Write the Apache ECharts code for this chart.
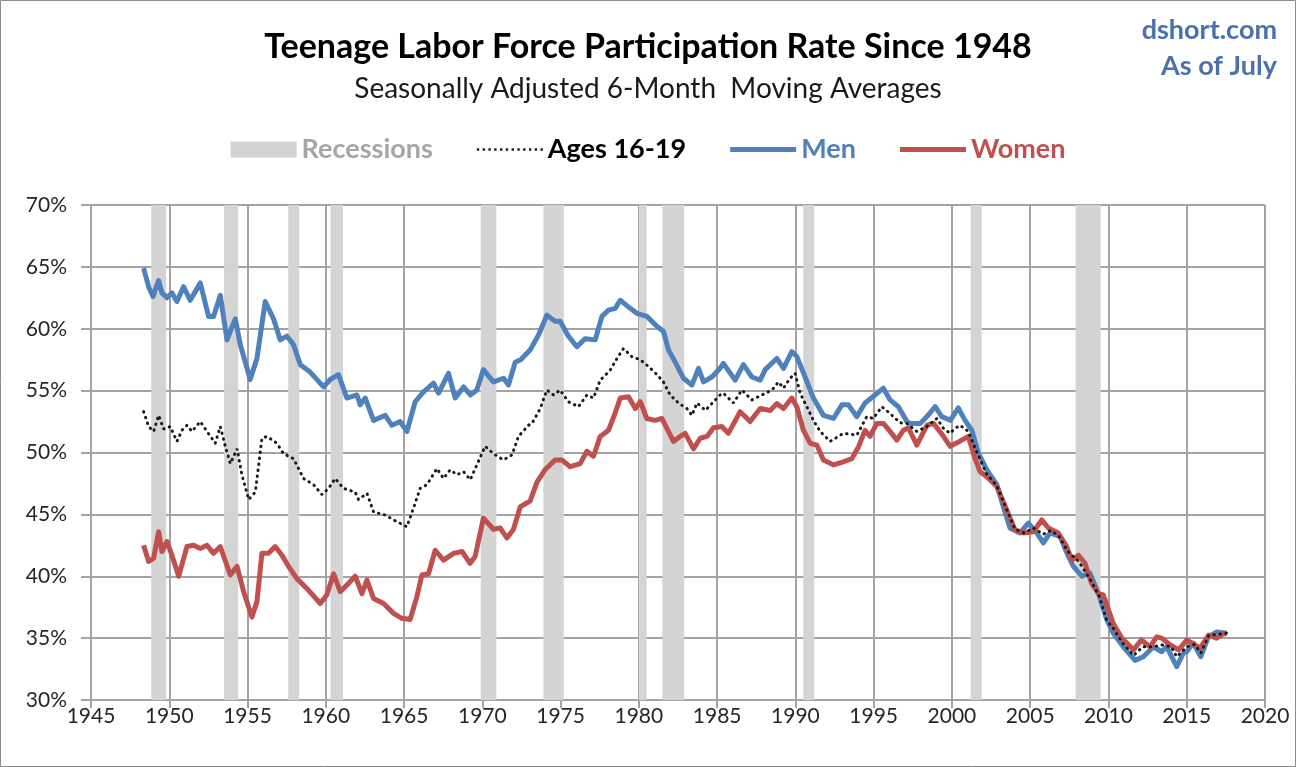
<!DOCTYPE html>
<html>
<head>
<meta charset="utf-8">
<title>Teenage Labor Force Participation Rate Since 1948</title>
<script src="https://cdn.jsdelivr.net/npm/echarts@6/dist/echarts.min.js"></script>
<style>
  html, body { margin: 0; padding: 0; background: #fff; }
  #chart { width: 1296px; height: 767px; }
</style>
</head>
<body>
<div id="chart"></div>
<script>
// NBER recessions [start, end] in decimal years
const recessions = [
  [1948.85, 1949.8], [1953.5, 1954.4], [1957.6, 1958.3], [1960.3, 1961.1],
  [1969.9, 1970.9], [1973.9, 1975.2], [1980.0, 1980.5], [1981.5, 1982.9],
  [1990.5, 1991.2], [2001.2, 2001.9], [2007.9, 2009.5]
];

// Men 16-19, [year, %]
const men = [
  [1948.36,64.9],[1948.68,63.4],[1948.96,62.6],[1949.32,63.9],[1949.53,62.9],[1949.85,62.5],
  [1950.17,62.9],[1950.49,62.2],[1950.91,63.4],[1951.34,62.3],[1951.66,63.0],[1951.98,63.7],
  [1952.51,61.0],[1952.83,61.0],[1953.26,62.7],[1953.69,59.1],[1953.9,59.8],[1954.22,60.8],
  [1954.54,58.7],[1955.17,55.9],[1955.6,57.6],[1956.13,62.2],[1956.66,60.8],[1957.09,59.1],
  [1957.52,59.4],[1957.94,58.7],[1958.37,57.1],[1959.0,56.5],[1959.86,55.3],[1960.28,55.9],
  [1960.81,56.3],[1961.35,54.4],[1961.99,54.65],[1962.2,53.85],[1962.52,54.4],[1963.05,52.6],
  [1963.8,53.0],[1964.22,52.2],[1964.75,52.5],[1965.18,51.7],[1965.71,54.1],[1966.24,54.9],
  [1966.88,55.6],[1967.2,54.8],[1967.84,56.4],[1968.27,54.4],[1968.8,55.3],[1969.23,54.65],
  [1969.65,55.05],[1970.07,56.7],[1970.71,55.7],[1971.35,56.0],[1971.67,55.45],[1972.1,57.3],
  [1972.45,57.5],[1973.06,58.3],[1973.59,59.5],[1974.12,61.1],[1974.65,60.6],[1974.97,60.6],
  [1975.5,59.4],[1976.04,58.55],[1976.57,59.2],[1977.21,59.1],[1977.64,61.0],[1978.06,61.5],
  [1978.49,61.65],[1978.81,62.3],[1979.45,61.65],[1979.87,61.25],[1980.51,61.0],[1981.15,60.2],
  [1981.57,59.8],[1981.89,58.3],[1982.32,57.3],[1982.85,56.0],[1983.39,55.45],[1983.81,56.8],
  [1984.13,55.7],[1984.66,56.1],[1985.19,56.8],[1985.4,57.2],[1986.15,55.85],[1986.68,57.1],
  [1987.22,56.1],[1987.75,55.85],[1988.07,56.7],[1988.81,57.6],[1989.24,56.8],[1989.77,58.15],
  [1990.09,57.75],[1990.62,56.1],[1991.15,54.4],[1991.79,53.0],[1992.43,52.75],[1992.97,53.85],
  [1993.39,53.85],[1993.92,52.9],[1994.45,54.0],[1995.09,54.65],[1995.62,55.2],[1996.05,54.25],
  [1996.58,53.7],[1997.12,52.5],[1997.33,52.35],[1997.97,52.35],[1998.4,52.9],[1998.93,53.7],
  [1999.35,52.9],[1999.89,52.6],[2000.41,53.6],[2000.84,52.6],[2001.27,51.8],[2001.69,49.95],
  [2002.23,48.6],[2002.87,47.4],[2003.29,45.6],[2003.71,43.9],[2004.35,43.5],[2004.88,44.3],
  [2005.42,43.5],[2005.84,42.7],[2006.27,43.5],[2006.91,43.2],[2007.44,41.6],[2007.76,40.8],
  [2008.3,40.0],[2008.82,40.25],[2009.36,38.6],[2009.89,36.5],[2010.31,35.4],[2010.95,34.3],
  [2011.7,33.2],[2012.23,33.5],[2012.87,34.3],[2013.4,33.9],[2013.72,34.3],[2014.36,32.7],
  [2014.79,33.8],[2015.0,33.9],[2015.42,34.6],[2015.9,33.5],[2016.38,35.1],[2016.92,35.5],
  [2017.56,35.4]
];

// Women 16-19, [year, %]
const women = [
  [1948.36,42.5],[1948.68,41.2],[1949.0,41.45],[1949.32,43.6],[1949.53,42.0],[1949.85,42.8],
  [1950.17,41.7],[1950.6,40.0],[1951.13,42.4],[1951.55,42.5],[1951.98,42.25],[1952.41,42.5],
  [1952.83,41.85],[1953.26,42.4],[1953.9,40.1],[1954.33,40.8],[1954.75,38.75],[1955.28,36.7],
  [1955.6,37.95],[1955.92,41.85],[1956.34,41.85],[1956.77,42.4],[1957.2,41.7],[1957.62,40.8],
  [1958.16,39.8],[1958.8,39.0],[1959.65,37.8],[1960.07,38.5],[1960.5,40.2],[1960.92,38.75],
  [1961.35,39.3],[1961.88,40.0],[1962.31,38.6],[1962.63,39.7],[1963.05,38.2],[1963.69,37.8],
  [1964.33,37.0],[1964.86,36.6],[1965.39,36.5],[1965.82,38.35],[1966.14,40.1],[1966.56,40.2],
  [1966.99,42.1],[1967.52,41.3],[1968.16,41.85],[1968.7,42.0],[1969.22,41.05],[1969.54,41.6],
  [1970.07,44.7],[1970.71,43.8],[1971.14,43.9],[1971.57,43.1],[1971.99,43.8],[1972.42,45.6],
  [1973.06,46.1],[1973.49,47.6],[1974.0,48.6],[1974.65,49.4],[1975.08,49.4],[1975.61,48.85],
  [1976.25,49.1],[1976.68,50.1],[1977.1,49.7],[1977.53,51.3],[1978.06,51.8],[1978.49,53.2],
  [1978.81,54.4],[1979.34,54.5],[1979.77,53.55],[1980.09,54.1],[1980.51,52.75],[1981.04,52.6],
  [1981.47,52.75],[1981.89,51.7],[1982.21,50.9],[1982.64,51.3],[1982.96,51.55],[1983.49,50.3],
  [1983.92,51.15],[1984.35,51.3],[1984.77,52.0],[1985.3,52.1],[1985.72,51.55],[1986.47,53.3],
  [1987.11,52.5],[1987.75,53.55],[1988.39,53.4],[1988.81,53.95],[1989.24,53.55],[1989.77,54.4],
  [1990.09,53.7],[1990.51,51.8],[1990.94,50.75],[1991.37,50.6],[1991.79,49.4],[1992.43,49.0],
  [1993.07,49.25],[1993.6,49.5],[1994.03,50.45],[1994.45,51.8],[1994.77,51.3],[1995.2,52.35],
  [1995.62,52.35],[1996.05,51.7],[1996.48,51.0],[1996.9,51.8],[1997.22,52.0],[1997.76,50.6],
  [1998.4,52.2],[1998.82,52.35],[1999.35,51.5],[1999.89,50.5],[2000.41,50.85],[2001.05,51.3],
  [2001.48,49.5],[2001.8,48.45],[2002.23,48.05],[2002.87,47.25],[2003.5,45.35],[2004.03,43.75],
  [2004.57,43.5],[2005.2,43.6],[2005.74,44.55],[2006.16,43.9],[2006.8,43.5],[2007.33,42.4],
  [2007.66,41.3],[2008.08,41.7],[2008.5,41.05],[2008.93,39.4],[2009.36,38.6],[2009.67,38.5],
  [2010.3,36.2],[2010.85,35.0],[2011.6,34.05],[2012.1,34.85],[2012.65,34.3],[2013.08,35.1],
  [2013.4,35.0],[2013.95,34.45],[2014.48,34.05],[2015.0,34.85],[2015.85,34.2],[2016.4,35.25],
  [2016.9,35.0],[2017.4,35.4],[2017.56,35.3]
];

// Ages 16-19 (all), [year, %]
const teens = [
  [1948.36,53.3],[1948.68,52.1],[1949.0,51.7],[1949.32,53.0],[1949.64,51.9],[1950.06,52.1],
  [1950.49,50.9],[1950.81,51.8],[1951.13,52.2],[1951.45,51.7],[1951.98,52.5],[1952.41,51.7],
  [1952.94,50.75],[1953.26,52.1],[1953.58,50.5],[1953.9,49.1],[1954.33,50.3],[1954.64,48.2],
  [1955.07,46.2],[1955.5,46.8],[1955.92,51.15],[1956.24,51.3],[1956.88,50.75],[1957.3,49.9],
  [1957.94,49.5],[1958.58,47.9],[1959.22,47.4],[1959.75,46.6],[1960.18,47.1],[1960.6,47.9],
  [1961.13,47.1],[1961.88,46.8],[1962.09,46.2],[1962.63,46.7],[1963.05,45.2],[1963.8,44.95],
  [1964.33,44.55],[1965.18,44.0],[1965.6,45.5],[1966.03,47.1],[1966.46,47.4],[1967.1,48.7],
  [1967.52,47.9],[1967.95,48.6],[1968.38,48.2],[1968.8,48.45],[1969.23,47.8],[1969.65,49.0],
  [1970.18,50.5],[1970.71,49.9],[1971.35,49.4],[1971.89,49.8],[1972.31,51.3],[1972.95,52.2],
  [1973.17,52.35],[1973.7,53.55],[1974.12,55.05],[1974.55,54.65],[1974.97,55.05],[1975.5,54.1],
  [1976.14,53.7],[1976.68,54.65],[1977.1,54.4],[1977.53,55.85],[1978.17,56.65],[1978.6,57.6],
  [1979.02,58.4],[1979.55,57.75],[1980.09,57.5],[1980.62,56.95],[1981.15,56.3],[1981.57,55.7],
  [1982.0,54.65],[1982.53,54.0],[1983.07,53.55],[1983.39,53.0],[1983.71,54.0],[1984.25,53.4],
  [1984.77,54.1],[1985.19,54.65],[1985.4,54.8],[1986.04,54.0],[1986.58,55.05],[1987.22,54.25],
  [1987.86,54.65],[1988.5,55.05],[1988.92,55.7],[1989.24,55.2],[1989.66,56.0],[1989.98,56.4],
  [1990.3,54.8],[1990.73,53.7],[1991.15,52.6],[1991.58,51.7],[1992.22,50.9],[1993.07,51.55],
  [1993.92,51.4],[1994.56,52.9],[1994.98,52.75],[1995.52,53.7],[1996.05,53.15],[1996.69,52.4],
  [1997.12,52.35],[1997.76,51.7],[1998.4,52.1],[1999.04,52.75],[1999.46,51.95],[1999.89,51.55],
  [2000.2,51.95],[2000.52,52.2],[2001.05,51.7],[2001.5,50.3],[2002.2,48.3],[2002.87,47.3],
  [2003.5,45.4],[2004.03,43.8],[2004.6,43.5],[2005.2,43.9],[2005.84,43.4],[2006.3,43.7],
  [2006.8,43.3],[2007.4,42.0],[2008.1,41.2],[2008.9,39.6],[2009.4,38.4],[2009.9,36.4],
  [2010.3,35.8],[2010.9,34.6],[2011.6,33.6],[2012.2,34.3],[2012.9,34.3],[2013.4,34.45],
  [2014.0,34.3],[2014.36,33.5],[2015.0,34.3],[2015.5,34.5],[2015.9,33.8],[2016.4,35.2],
  [2016.9,35.3],[2017.56,35.4]
];

const FONT = 'Lato, "Open Sans", sans-serif';
const BLUE = '#4F81BD';
const RED = '#C0504D';
const GRID = '#A3A3A3';

// legend glyphs: a flat bar for solid lines, a row of dots for the dotted one
const BAR_ICON = 'path://M0,0L66,0L66,5L0,5Z';
const DOT_ICON = 'path://' + Array.from({ length: 12 }, (_, i) =>
  'M' + (i * 6) + ',0h2.4v2.4h-2.4Z').join('');

const chart = echarts.init(document.getElementById('chart'));

const option = {
  animation: false,
  backgroundColor: '#fff',
  textStyle: { fontFamily: FONT },
  title: [
    {
      text: 'Teenage Labor Force Participation Rate Since 1948',
      left: 'center', top: 25,
      textStyle: { fontFamily: FONT, fontSize: 34, fontWeight: 'bold', color: '#000' }
    },
    {
      text: 'Seasonally Adjusted 6-Month  Moving Averages',
      left: 'center', top: 70,
      textStyle: { fontFamily: FONT, fontSize: 28, fontWeight: 'normal', color: '#1a1a1a' }
    },
    {
      text: 'dshort.com',
      right: 14, top: 12,
      textStyle: { fontFamily: FONT, fontSize: 27, fontWeight: 'bold', color: '#4A70AE' }
    },
    {
      text: 'As of July',
      right: 14, top: 48,
      textStyle: { fontFamily: FONT, fontSize: 27, fontWeight: 'bold', color: '#4A70AE' }
    }
  ],
  graphic: [{
    type: 'rect', silent: true,
    shape: { x: 0.5, y: 0.5, width: 1295, height: 766 },
    style: { fill: 'none', stroke: '#8c8c8c', lineWidth: 1 }
  }],
  legend: {
    top: 131, left: 'center',
    itemWidth: 66, itemHeight: 16, itemGap: 44,
    textStyle: { fontFamily: FONT, fontSize: 27, fontWeight: 'bold' },
    data: [
      { name: 'Recessions', icon: 'rect', itemStyle: { color: '#D4D4D4' }, textStyle: { color: '#A6A6A6' } },
      { name: 'Ages 16-19', icon: DOT_ICON, itemStyle: { color: '#1a1a1a' }, textStyle: { color: '#000' } },
      { name: 'Men', icon: BAR_ICON, itemStyle: { color: BLUE }, textStyle: { color: BLUE } },
      { name: 'Women', icon: BAR_ICON, itemStyle: { color: RED }, textStyle: { color: RED } }
    ]
  },
  grid: { left: 91, right: 31, top: 205, bottom: 67 },
  xAxis: {
    type: 'value', min: 1945, max: 2020, interval: 5,
    axisLine: { show: true, lineStyle: { color: GRID, width: 2 } },
    axisTick: { show: true, length: 8, lineStyle: { color: GRID, width: 2 } },
    splitLine: { show: true, lineStyle: { color: GRID, width: 2 } },
    axisLabel: { fontFamily: FONT, fontSize: 21, color: '#262626', margin: 6, formatter: v => String(v) }
  },
  yAxis: {
    type: 'value', min: 30, max: 70, interval: 5,
    axisLine: { show: true, lineStyle: { color: GRID, width: 2 } },
    axisTick: { show: true, length: 10, lineStyle: { color: GRID, width: 2 } },
    splitLine: { show: true, lineStyle: { color: GRID, width: 2 } },
    axisLabel: { fontFamily: FONT, fontSize: 21, color: '#262626', margin: 24, formatter: '{value}%' }
  },
  series: [
    {
      name: 'Recessions', type: 'line', data: [], z: -1, symbol: 'none',
      itemStyle: { color: '#D4D4D4' },
      markArea: {
        silent: true,
        itemStyle: { color: '#D4D4D4', opacity: 1 },
        data: recessions.map(r => [{ xAxis: r[0] }, { xAxis: r[1] }])
      }
    },
    {
      name: 'Men', type: 'line', data: men, symbol: 'none', z: 3,
      itemStyle: { color: BLUE },
      lineStyle: { color: BLUE, width: 5, join: 'round' }
    },
    {
      name: 'Women', type: 'line', data: women, symbol: 'none', z: 4,
      itemStyle: { color: RED },
      lineStyle: { color: RED, width: 5, join: 'round' }
    },
    {
      name: 'Ages 16-19', type: 'line', data: teens, symbol: 'none', z: 5,
      itemStyle: { color: '#1a1a1a' },
      lineStyle: { color: '#1a1a1a', width: 3, type: [0.5, 5.5], cap: 'round' }
    }
  ]
};

chart.setOption(option);
</script>
</body>
</html>
